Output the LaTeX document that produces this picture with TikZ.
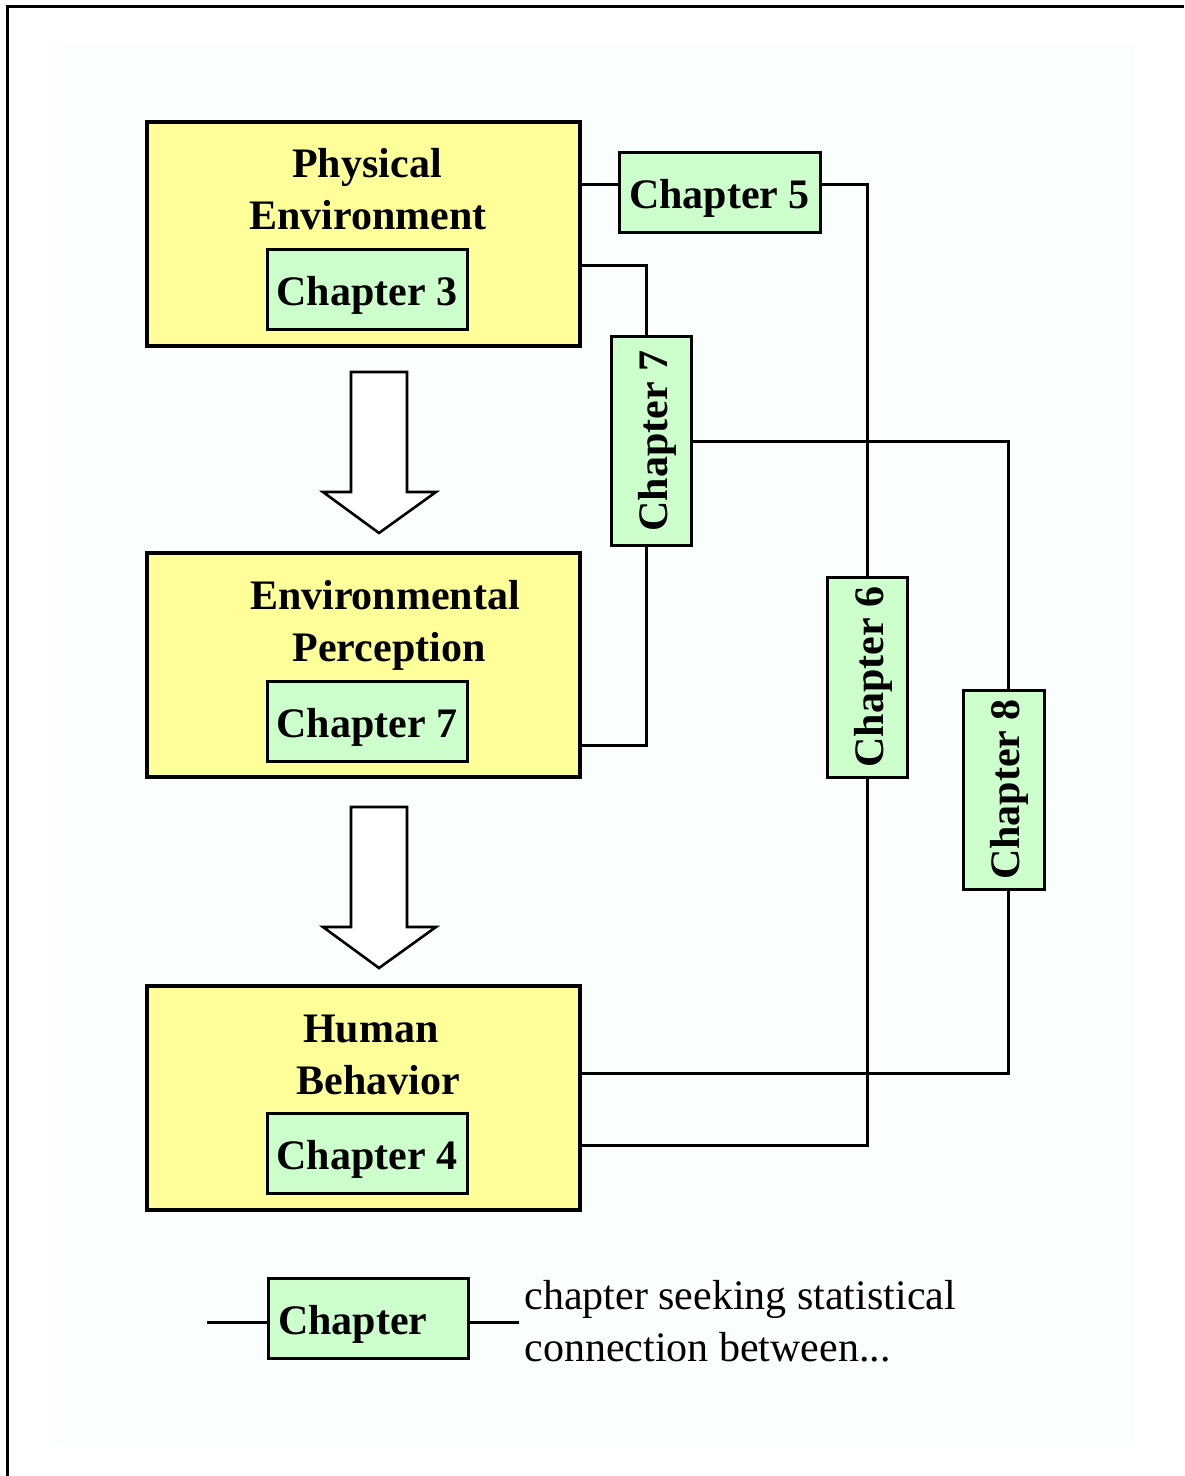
\documentclass[tikz,border=0pt]{standalone}
\usepackage{fontspec}
\setmainfont{Liberation Serif}
\usepackage{tikz}
\usetikzlibrary{positioning,calc}

\definecolor{boxyellow}{RGB}{255,255,153}
\definecolor{chapgreen}{RGB}{204,255,204}
\definecolor{pagetint}{RGB}{250,254,254}

\newcommand{\bigtext}{\fontsize{21}{26}\selectfont}

\tikzset{
  stage/.style={draw,line width=1.8pt,fill=boxyellow,minimum width=216.5pt,minimum height=112pt,inner sep=0pt},
  chapbox/.style={draw,line width=1.5pt,fill=chapgreen,minimum width=100pt,minimum height=40pt,inner sep=0pt,
    font=\bigtext\bfseries,text height=16.5pt,text depth=0.5pt},
  title/.style={font=\bigtext\bfseries,inner sep=0pt,anchor=base},
  link/.style={line width=1.5pt},
  blockarrow/.style={draw,line width=1.3pt,fill=white,line join=miter}
}

\begin{document}
\begin{tikzpicture}[x=0.5pt,y=-0.5pt,font=\bigtext]
  \useasboundingbox (0,0) rectangle (1184,1476);
  \fill[pagetint] (55,44) rectangle (1135,1445);
  \draw[line width=1.5pt] (7,1476) -- (7,7) -- (1184,7);

  % the three stages
  \node[stage] (pe) at (363.5,234) {};
  \node[stage] (ep) at (363.5,665) {};
  \node[stage] (hb) at (363.5,1098) {};

  \node[title] (pe1) at (367,178) {Physical};
  \node[title] (pe2) at (368,230) {Environment};
  \node[title] (ep1) at (385,609) {Environmental};
  \node[title] (ep2) at (389,661) {Perception};
  \node[title] (hb1) at (371,1042) {Human};
  \node[title] (hb2) at (378,1094) {Behavior};

  \node[chapbox] (ch3) at (367,289.5) {Chapter 3};
  \node[chapbox] (ch7) at (367,721.5) {Chapter 7};
  \node[chapbox] (ch4) at (367,1153.5) {Chapter 4};

  \foreach \y in {372,807}
    \draw[blockarrow,shift={(0,\y)}] (351,0) -- (407,0) -- (407,120) -- (436,120)
      -- (379,161) -- (323,120) -- (351,120) -- cycle;

  % connecting chapters (rotated ones: east is top, west is bottom, south is right)
  \node[chapbox,minimum width=100.5pt] (ch5) at (719.5,193) {Chapter 5};
  \node[chapbox,rotate=90,minimum width=104pt] (ch7v) at (651.5,441) {Chapter 7};
  \node[chapbox,rotate=90] (ch6) at (867.5,677) {Chapter 6};
  \node[chapbox,rotate=90,minimum width=99.5pt,minimum height=40.5pt] (ch8) at (1003.5,789.5) {Chapter 8};

  \coordinate (k5) at (867,185);
  \coordinate (k7) at (646,266);
  \coordinate (k7b) at (646,745);
  \coordinate (k8) at (1008,441);
  \coordinate (k6) at (867,1145);
  \coordinate (k8b) at (1008,1073);

  \draw[link] (pe.east |- k5) -- (ch5.west |- k5);
  \draw[link] (ch5.east |- k5) -- (k5) -- (k5 |- ch6.east);
  \draw[link] (pe.east |- k7) -- (k7) -- (k7 |- ch7v.east);
  \draw[link] (k7 |- ch7v.west) -- (k7b) -- (ep.east |- k7b);
  \draw[link] (ch7v.south) -- (k8) -- (k8 |- ch8.east);
  \draw[link] (k5 |- ch6.west) -- (k6) -- (hb.east |- k6);
  \draw[link] (k8 |- ch8.west) -- (k8b) -- (hb.east |- k8b);

  % legend
  \node[chapbox] (lg) at (368,1318.5) {\makebox[90pt][l]{Chapter}};
  \coordinate (lgl) at (207,1322);
  \coordinate (lgr) at (519,1322);
  \draw[link] (lgl) -- (lg.west |- lgl);
  \draw[link] (lg.east |- lgr) -- (lgr);
  \node[inner sep=0pt,anchor=base west] (lgt1) at (524,1309) {chapter seeking statistical};
  \node[inner sep=0pt,anchor=base west] (lgt2) at (524,1361) {connection between...};
\end{tikzpicture}
\end{document}
